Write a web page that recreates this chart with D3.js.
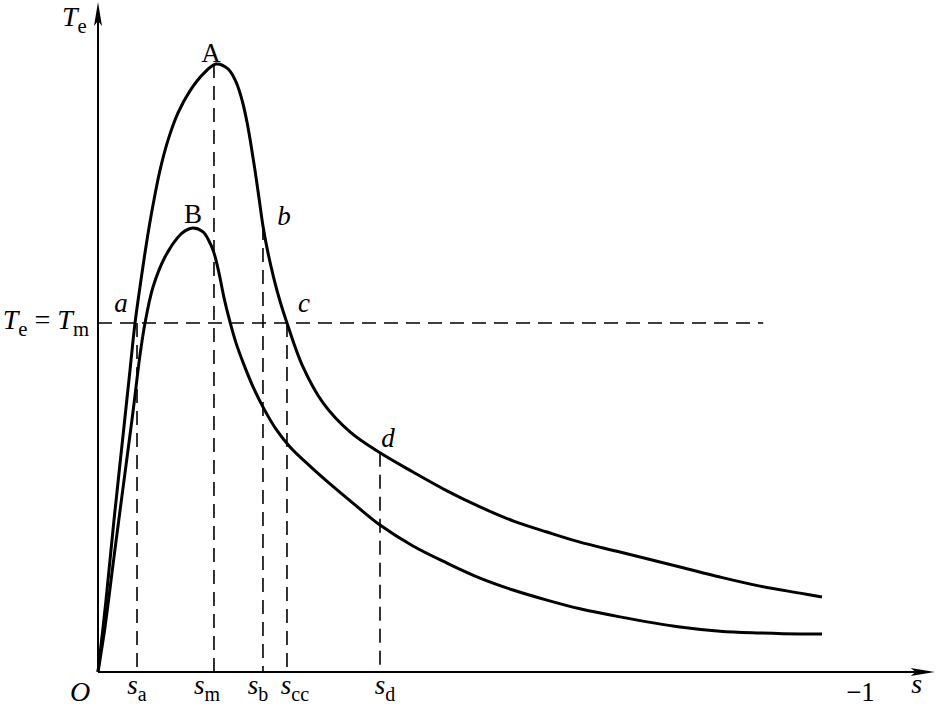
<!DOCTYPE html>
<html>
<head>
<meta charset="utf-8">
<script src="https://cdn.jsdelivr.net/npm/d3@7"></script>
<style>
body { margin: 0; background: #fff; }
svg { display: block; background: #fff; }
text { font-family: "Liberation Serif", "Times New Roman", serif; fill: #000; }
</style>
</head>
<body>
<svg id="chart"></svg>
<script>
// slip s and torque Te (in units of Tm)
var sCurveA = [0, 0.0105, 0.0210, 0.0315, 0.0420, 0.0486, 0.0564, 0.0643, 0.0722, 0.0814, 0.0919, 0.1050, 0.1207, 0.1378, 0.1549,
	0.1706, 0.1811, 0.1890, 0.1955, 0.2008, 0.2060, 0.2113, 0.2165, 0.2231, 0.2310, 0.2388, 0.2480,
	0.2690, 0.2953, 0.3307, 0.3701, 0.4134, 0.4580, 0.5013, 0.5446, 0.5892, 0.6325, 0.6850, 0.7638, 0.8163, 0.8688, 0.9213, 0.9501];
var teCurveA = [0, 0.206, 0.436, 0.650, 0.865, 1.000, 1.123, 1.238, 1.338, 1.438, 1.524, 1.602, 1.665, 1.713, 1.742,
	1.728, 1.691, 1.639, 1.576, 1.510, 1.438, 1.358, 1.278, 1.201, 1.126, 1.063, 1.000,
	0.874, 0.771, 0.688, 0.628, 0.573, 0.519, 0.473, 0.433, 0.401, 0.372, 0.344, 0.301, 0.272, 0.246, 0.226, 0.215];

var sCurveB = [0, 0.0092, 0.0210, 0.0328, 0.0459, 0.0551, 0.0617, 0.0722, 0.0879, 0.1050, 0.1142, 0.1247,
	0.1378, 0.1457, 0.1522, 0.1588, 0.1654, 0.1732, 0.1811, 0.1916, 0.2047, 0.2178, 0.2336, 0.2520,
	0.2782, 0.3045, 0.3373, 0.3701, 0.4134, 0.4580, 0.5013, 0.5446, 0.5892, 0.6325, 0.6850, 0.7638, 0.8163, 0.8688, 0.9213, 0.9501];
var teCurveB = [0, 0.129, 0.330, 0.527, 0.745, 0.908, 1.000, 1.103, 1.189, 1.246, 1.264, 1.272,
	1.261, 1.235, 1.201, 1.143, 1.072, 1.003, 0.943, 0.880, 0.811, 0.754, 0.696, 0.645,
	0.590, 0.539, 0.479, 0.421, 0.361, 0.312, 0.269, 0.235, 0.206, 0.181, 0.158, 0.129, 0.117, 0.112, 0.109, 0.109];

// marked slips on the s axis and the torque where each dashed line starts
var markSub = ["a", "m", "b", "cc", "d"];
var markS = [0.0512, 0.1522, 0.2165, 0.248, 0.3701];
var markTe = [1.0, 1.742, 1.278, 1.0, 0.628];

// lettered points on the curves
var pointName = ["A", "B", "a", "b", "c", "d"];
var pointS = [0.1522, 0.1247, 0.0512, 0.2165, 0.248, 0.3701];
var pointTe = [1.742, 1.272, 1.0, 1.278, 1.0, 0.628];

var tmLevel = 1.0, tmLineEnd = 0.873;
var sTick = [1], sTickLabel = ["\u22121"];
var sAxisEnd = 1.098, teAxisEnd = 1.92;

var svgWidth = 939, svgHeight = 708;
var svg = d3.select("#chart")
	.attr("width", svgWidth)
	.attr("height", svgHeight);

var x = d3.scaleLinear().domain([0, 1]).range([98, 860]);
var y = d3.scaleLinear().domain([0, 1]).range([672, 323]);

function zip(xs, ys) {
	var out = [];
	for (var i = 0; i < xs.length; i++) out.push({ s: xs[i], te: ys[i] });
	return out;
}

// writes a label made of parts: [text, italic, subscript]
function label(g, px, py, parts, size, anchor) {
	var t = g.append("text")
		.attr("x", px)
		.attr("y", py)
		.attr("font-size", size)
		.attr("text-anchor", anchor || "start");
	var down = false;
	parts.forEach(function(p) {
		var ts = t.append("tspan").text(p[0]);
		if (p[1]) ts.attr("font-style", "italic");
		if (p[2] && !down) { ts.attr("dy", 7).attr("font-size", size * 0.74); down = true; }
		else if (p[2]) { ts.attr("font-size", size * 0.74); }
		else if (down) { ts.attr("dy", -7); down = false; }
	});
	return t;
}

var dash = "14,8";

// Te = Tm level
svg.append("line")
	.attr("x1", x(0)).attr("x2", x(tmLineEnd))
	.attr("y1", y(tmLevel)).attr("y2", y(tmLevel))
	.attr("stroke", "#000").attr("stroke-width", 1.6)
	.attr("stroke-dasharray", dash);

// dashed drops to the s axis
svg.selectAll(".drop")
	.data(markS)
	.enter().append("line")
	.attr("class", "drop")
	.attr("x1", function(d) { return x(d); })
	.attr("x2", function(d) { return x(d); })
	.attr("y1", function(d, i) { return y(markTe[i]); })
	.attr("y2", y(0))
	.attr("stroke", "#000").attr("stroke-width", 1.6)
	.attr("stroke-dasharray", dash);

// curves
var line = d3.line()
	.x(function(d) { return x(d.s); })
	.y(function(d) { return y(d.te); })
	.curve(d3.curveCatmullRom.alpha(0.5));

[zip(sCurveA, teCurveA), zip(sCurveB, teCurveB)].forEach(function(data) {
	svg.append("path")
		.datum(data)
		.attr("fill", "none")
		.attr("stroke", "#000")
		.attr("stroke-width", 3)
		.attr("stroke-linejoin", "round")
		.attr("d", line);
});

// axes with arrows
svg.append("line")
	.attr("x1", x(0)).attr("x2", x(sAxisEnd) - 6)
	.attr("y1", y(0)).attr("y2", y(0))
	.attr("stroke", "#000").attr("stroke-width", 2);
svg.append("line")
	.attr("x1", x(0)).attr("x2", x(0))
	.attr("y1", y(0)).attr("y2", y(teAxisEnd) + 6)
	.attr("stroke", "#000").attr("stroke-width", 2);

var xt = x(sAxisEnd), yt = y(0);
svg.append("path")
	.attr("d", "M" + xt + "," + yt + "L" + (xt - 24) + "," + (yt - 4) + "L" + (xt - 19) + "," + yt + "L" + (xt - 24) + "," + (yt + 4) + "Z")
	.attr("fill", "#000");
var xu = x(0), yu = y(teAxisEnd);
svg.append("path")
	.attr("d", "M" + xu + "," + yu + "L" + (xu - 4) + "," + (yu + 24) + "L" + xu + "," + (yu + 19) + "L" + (xu + 4) + "," + (yu + 24) + "Z")
	.attr("fill", "#000");

// -1 tick on the s axis
var sAxis = svg.append("g")
	.attr("transform", "translate(0," + y(0) + ")")
	.call(d3.axisBottom(x).tickValues(sTick).tickSize(0).tickPadding(10)
		.tickFormat(function(d, i) { return sTickLabel[i]; }));
sAxis.select(".domain").remove();
sAxis.selectAll("text")
	.attr("font-family", "Liberation Serif, Times New Roman, serif")
	.attr("font-size", 27)
	.attr("dy", "0.71em");

// axis titles
label(svg, x(0) - 36, 26, [["T", true], ["e", false, true]], 28);
label(svg, x(sAxisEnd) - 18, 693, [["s", true]], 28, "middle");
label(svg, x(0) - 18, 701, [["O", true]], 28, "middle");
label(svg, x(0) - 9, 329, [["T", true], ["e", false, true], [" = ", false], ["T", true], ["m", false, true]], 28, "end");

// s_x labels under the drops
var markDx = [0, -7, -5, 8, 5];
markS.forEach(function(d, i) {
	label(svg, x(d) + markDx[i], 694, [["s", true], [markSub[i], false, true]], 27, "middle");
});

// point letters
var pointDx = [-3, 0, -16, 21, 17, 8];
var pointDy = [-2, -5, -11, -1, -11, -6];
pointName.forEach(function(n, i) {
	var upper = n === n.toUpperCase();
	label(svg, x(pointS[i]) + pointDx[i], y(pointTe[i]) + pointDy[i], [[n, !upper]], 27, "middle");
});
</script>
</body>
</html>
